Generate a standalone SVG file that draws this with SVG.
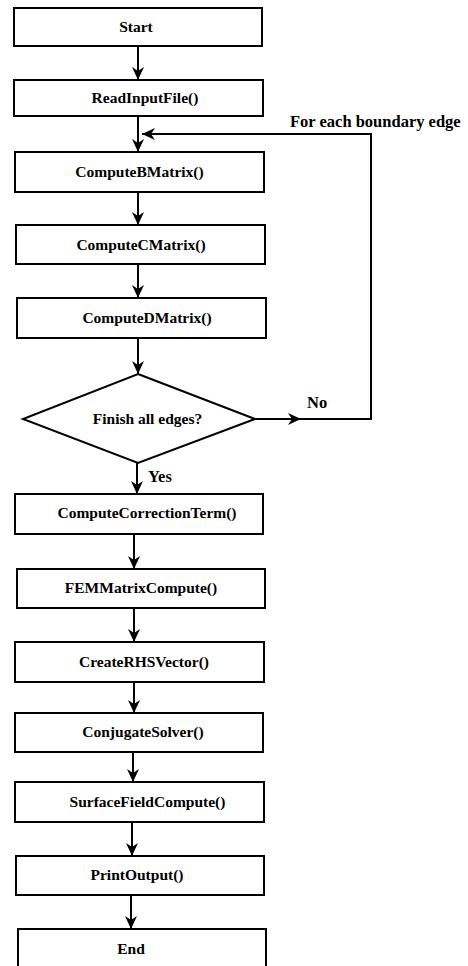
<svg xmlns="http://www.w3.org/2000/svg" width="468" height="966" viewBox="0 0 468 966">
<defs>
<style>
.box{fill:#fff;stroke:#000;stroke-width:2}
.t{font-weight:bold;font-size:15.5px;fill:#000;text-anchor:middle}
.lbl{font-weight:bold;font-size:16.5px;fill:#000}
.c{fill:none;stroke:#000;stroke-width:2}
</style>
<marker id="ah" markerUnits="userSpaceOnUse" markerWidth="14" markerHeight="12" refX="13" refY="6" orient="auto">
<path d="M0,0 L13,6 L0,12 L4,6 Z" fill="#000"/>
</marker>
</defs>
<rect width="468" height="966" fill="#fff"/>
<g id="connectors" font-family="Liberation Serif, DejaVu Serif, serif">
<line class="c" x1="138" y1="46" x2="138" y2="80" marker-end="url(#ah)"/>
<line class="c" x1="138" y1="116" x2="138" y2="152" marker-end="url(#ah)"/>
<line class="c" x1="138" y1="192" x2="138" y2="225" stroke-width="1" marker-end="url(#ah)"/>
<line class="c" x1="138" y1="264" x2="138" y2="298" marker-end="url(#ah)"/>
<line class="c" x1="138" y1="338" x2="138" y2="374" marker-end="url(#ah)"/>
<line class="c" x1="255" y1="419" x2="301" y2="419" marker-end="url(#ah)"/>
<polyline class="c" points="300,419 371,419 371,134 142,134" marker-end="url(#ah)"/>
<line class="c" x1="137" y1="463" x2="137" y2="494" marker-end="url(#ah)"/>
<line class="c" x1="134" y1="534" x2="134" y2="569" marker-end="url(#ah)"/>
<line class="c" x1="134" y1="608" x2="134" y2="642" marker-end="url(#ah)"/>
<line class="c" x1="134" y1="682" x2="134" y2="713" marker-end="url(#ah)"/>
<line class="c" x1="133" y1="752" x2="133" y2="782" marker-end="url(#ah)"/>
<line class="c" x1="132" y1="822" x2="132" y2="856" marker-end="url(#ah)"/>
<line class="c" x1="131" y1="895" x2="131" y2="929" marker-end="url(#ah)"/>
<text class="lbl" x="290" y="127">For each boundary edge</text>
<text class="lbl" x="307" y="408">No</text>
<text class="lbl" x="148" y="482">Yes</text>
</g>
<g id="nodes" font-family="Liberation Serif, DejaVu Serif, serif">
<g id="start"><rect class="box" x="14" y="8" width="248" height="38"/><text class="t" x="136" y="32">Start</text></g>
<g id="read"><rect class="box" x="14" y="80" width="249" height="36"/><text class="t" x="145" y="103">ReadInputFile()</text></g>
<g id="bmatrix"><rect class="box" x="15" y="152" width="249" height="40"/><text class="t" x="139.5" y="177">ComputeBMatrix()</text></g>
<g id="cmatrix"><rect class="box" x="16" y="225" width="249" height="39"/><text class="t" x="141" y="250">ComputeCMatrix()</text></g>
<g id="dmatrix"><rect class="box" x="17" y="298" width="249" height="40"/><text class="t" x="147" y="323">ComputeDMatrix()</text></g>
<g id="decision"><polygon class="box" points="138,374 255,419 138,463 23,419"/><text class="t" x="147.5" y="424">Finish all edges?</text></g>
<g id="correction"><rect class="box" x="15" y="494" width="248" height="40"/><text class="t" x="147" y="518">ComputeCorrectionTerm()</text></g>
<g id="fem"><rect class="box" x="17" y="569" width="248" height="39"/><text class="t" x="141" y="593">FEMMatrixCompute()</text></g>
<g id="rhs"><rect class="box" x="15" y="642" width="249" height="40"/><text class="t" x="144" y="667">CreateRHSVector()</text></g>
<g id="conjugate"><rect class="box" x="15" y="713" width="248" height="39"/><text class="t" x="143" y="737">ConjugateSolver()</text></g>
<g id="surface"><rect class="box" x="15" y="782" width="249" height="40"/><text class="t" x="147.5" y="807">SurfaceFieldCompute()</text></g>
<g id="print"><rect class="box" x="16" y="856" width="248" height="39"/><text class="t" x="137" y="880">PrintOutput()</text></g>
<g id="end"><rect class="box" x="18" y="929" width="248" height="45"/><text class="t" x="131" y="954">End</text></g>
</g>
</svg>
